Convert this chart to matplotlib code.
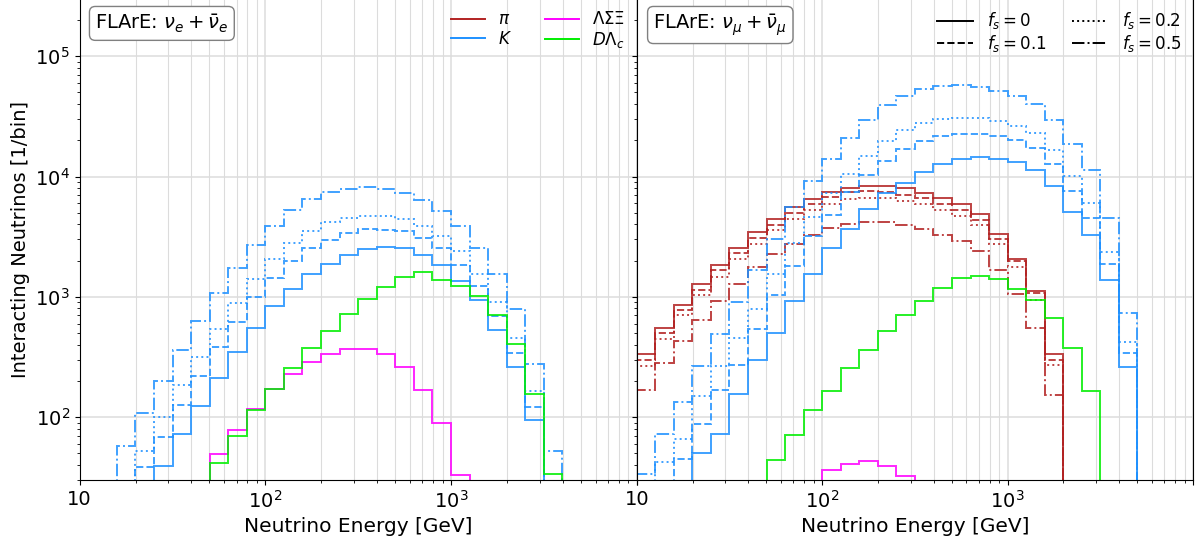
import numpy as np
import matplotlib.pyplot as plt
from matplotlib.lines import Line2D

# energy binning: 10 log bins per decade, 10 GeV - 10 TeV
edges = np.logspace(1, 4, 31)

# ---- FLArE nu_e + nu_e-bar, interacting neutrinos per bin ----
nue_K_f0 = [0, 0, 0, 0, 39.6, 71.8, 123, 211, 347, 550, 837, 1167, 1545, 1871, 2222,
            2478, 2588, 2524, 2240, 1850, 1361, 933, 529, 259, 94, 0, 0, 0, 0, 0]
nue_K_f01 = [0, 0, 0, 38.4, 68.7, 125, 219, 380, 616, 996, 1430, 1982, 2540, 2984, 3388,
             3632, 3610, 3500, 3097, 2524, 1850, 1219, 687, 340, 121, 0, 0, 0, 0, 0]
nue_K_f02 = [0, 0, 0, 52.5, 100, 184, 315, 543, 887, 1396, 2047, 2817, 3515, 4150, 4482,
             4690, 4720, 4425, 3900, 3177, 2400, 1556, 899, 457, 164, 0, 0, 0, 0, 0]
nue_K_f05 = [0, 0, 57.4, 109, 199, 358, 633, 1066, 1733, 2673, 3873, 5280, 6490, 7380, 7920,
             8170, 7850, 7280, 6370, 5150, 3846, 2570, 1536, 796, 278, 51.9, 0, 0, 0, 0]
nue_charm = [0, 0, 0, 0, 0, 0, 0, 41.5, 69.5, 114, 171, 254, 372, 523, 718,
             964, 1205, 1459, 1604, 1387, 1219, 1021, 700, 402, 156, 33.8, 0, 0, 0, 0]
nue_hyperon = [0, 0, 0, 0, 0, 0, 0, 49, 78, 117, 171, 227, 286, 336, 367,
               367, 332, 259, 169, 90, 33, 0, 0, 0, 0, 0, 0, 0, 0, 0]

# ---- FLArE nu_mu + nu_mu-bar ----
num_pi_f0 = [332, 550, 853, 1276, 1850, 2560, 3478, 4460, 5570, 6530, 7420, 8010, 8320, 8270, 7960,
             7280, 6670, 5865, 4905, 3320, 2047, 1115, 332, 0, 0, 0, 0, 0, 0, 0]
num_pi_f01 = [296, 499, 771, 1130, 1679, 2306, 3075, 3970, 5000, 5940, 6700, 7400, 7520, 7420, 7060,
              6610, 5940, 5220, 4375, 3020, 1982, 1081, 296, 0, 0, 0, 0, 0, 0, 0]
num_pi_f02 = [267, 442, 700, 1027, 1459, 2074, 2763, 3612, 4425, 5300, 5940, 6450, 6670, 6610, 6300,
              5865, 5220, 4720, 3970, 2763, 1767, 946, 272, 0, 0, 0, 0, 0, 0, 0]
num_pi_f05 = [169, 283, 426, 640, 920, 1276, 1755, 2250, 2740, 3240, 3700, 4000, 4180, 4150, 3945,
              3630, 3240, 2905, 2385, 1656, 1059, 553, 153, 0, 0, 0, 0, 0, 0, 0]
num_K_f0 = [0, 0, 0, 50, 72.7, 156, 296, 505, 927, 1556, 2540, 3630, 5340, 7250, 8880,
            10880, 12680, 13960, 14420, 13960, 13090, 11240, 8270, 5060, 3240, 1367, 260, 0, 0, 0]
num_K_f01 = [0, 0, 44.8, 88, 167, 269, 543, 1041, 1800, 3177, 4800, 7380, 10200, 13430, 17010,
             19840, 21530, 22500, 22500, 21670, 20080, 17130, 12680, 7620, 4510, 1884, 340, 0, 0, 0]
num_K_f02 = [0, 42.6, 65.6, 151, 267, 457, 796, 1556, 2817, 4600, 7250, 10400, 14850, 19700, 24170,
             27990, 30210, 30800, 30800, 28700, 26230, 22940, 16490, 10150, 6010, 2370, 418, 0, 0, 0]
num_K_f05 = [33.8, 72.7, 134, 265, 487, 898, 1679, 3000, 5570, 9160, 13870, 20900, 29250, 38980, 46970,
             53000, 56440, 57200, 55030, 50950, 46970, 40270, 29250, 18490, 11380, 4545, 738, 0, 0, 0]
num_charm = [0, 0, 0, 0, 0, 0, 0, 43.6, 70.8, 114, 166, 254, 358, 519, 705,
             921, 1180, 1430, 1497, 1403, 1167, 946, 665, 377, 164, 0, 0, 0, 0, 0]
num_hyperon = [0, 0, 0, 0, 0, 0, 0, 0, 0, 0, 36.6, 40.5, 42.9, 38.9, 32.7,
               0, 0, 0, 0, 0, 0, 0, 0, 0, 0, 0, 0, 0, 0, 0]

fs_values = ['0', '0.1', '0.2', '0.5']
fs_styles = ['-', '--', ':', '-.']
c_pi, c_K, c_hyp, c_charm = '#b22222', '#1e90ff', '#ff00ff', '#00ee00'

fig = plt.figure(figsize=(12, 5.37), dpi=100)
ax1 = fig.add_axes([0.0664, 0.1061, 0.4642, 0.8961])
ax2 = fig.add_axes([0.5306, 0.1061, 0.4636, 0.8961], sharey=ax1)

lw = 1.4
for ls, y in zip(fs_styles, [nue_K_f0, nue_K_f01, nue_K_f02, nue_K_f05]):
    ax1.stairs(y, edges, color=c_K, ls=ls, lw=lw, alpha=0.85)
ax1.stairs(nue_hyperon, edges, color=c_hyp, lw=lw, alpha=0.85)
ax1.stairs(nue_charm, edges, color=c_charm, lw=lw, alpha=0.85)

for ls, y in zip(fs_styles, [num_pi_f0, num_pi_f01, num_pi_f02, num_pi_f05]):
    ax2.stairs(y, edges, color=c_pi, ls=ls, lw=lw, alpha=0.85)
for ls, y in zip(fs_styles, [num_K_f0, num_K_f01, num_K_f02, num_K_f05]):
    ax2.stairs(y, edges, color=c_K, ls=ls, lw=lw, alpha=0.85)
ax2.stairs(num_hyperon, edges, color=c_hyp, lw=lw, alpha=0.85)
ax2.stairs(num_charm, edges, color=c_charm, lw=lw, alpha=0.85)

for ax in (ax1, ax2):
    ax.set_xscale('log')
    ax.set_yscale('log')
    ax.set_xlim(10, 1e4)
    ax.set_ylim(30, 3e5)
    ax.set_xticks([10, 100, 1000, 10000])
    ax.set_xticklabels(['10', '$10^2$', '$10^3$', ''])
    ax.grid(which='major', color='#dcdcdc', lw=1.1)
    ax.grid(which='minor', axis='x', color='#dcdcdc', lw=0.8)
    ax.set_axisbelow(True)
    ax.tick_params(labelsize=14)
    ax.set_xlabel('Neutrino Energy [GeV]', fontsize=14.5)
ax2.tick_params(axis='y', labelleft=False)
ax1.set_ylabel('Interacting Neutrinos [1/bin]', fontsize=14)

box = dict(boxstyle='round,pad=0.3', fc='white', ec='gray')
ax1.text(0.028, 0.972, r'FLArE: $\nu_e+\bar{\nu}_e$', transform=ax1.transAxes,
         fontsize=14, va='top', ha='left', bbox=box)
ax2.text(0.03, 0.972, r'FLArE: $\nu_\mu+\bar{\nu}_\mu$', transform=ax2.transAxes,
         fontsize=14, va='top', ha='left', bbox=box)

species = [Line2D([], [], color=c_pi, lw=lw), Line2D([], [], color=c_K, lw=lw),
           Line2D([], [], color=c_hyp, lw=lw), Line2D([], [], color=c_charm, lw=lw)]
ax1.legend(species, [r'$\pi$', r'$K$', r'$\Lambda\Sigma\Xi$', r'$D\Lambda_c$'],
           loc='upper right', ncol=2, frameon=False, fontsize=12,
           handlelength=2.0, labelspacing=0.1, columnspacing=2.0, borderaxespad=0.3)

fs_handles = [Line2D([], [], color='k', ls=ls, lw=lw) for ls in fs_styles]
ax2.legend(fs_handles, [rf'$f_s={v}$' for v in fs_values],
           loc='upper right', ncol=2, frameon=False, fontsize=12,
           handlelength=2.2, labelspacing=0.1, columnspacing=1.5, borderaxespad=0.3)

fig.savefig('out.png', dpi=100)
